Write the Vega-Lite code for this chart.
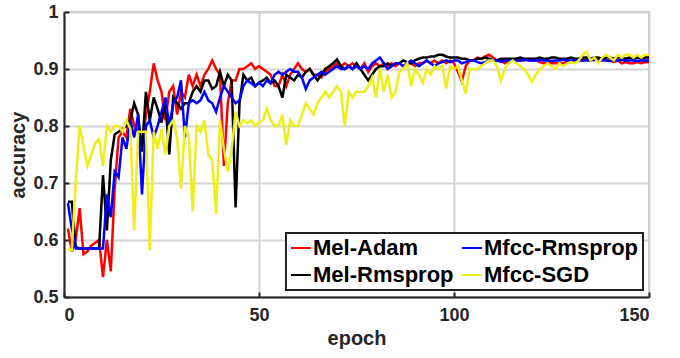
{
"$schema": "https://vega.github.io/schema/vega-lite/v6.json",
"width": 585, "height": 285,
"autosize": {"type": "none"},
"padding": {"left": 64, "top": 12, "right": 31, "bottom": 61},
"background": "white",
"config": {"view": {"stroke": "#c8c8c8", "strokeWidth": 2}, "font": "Liberation Sans"},
"data": {"values": [
{"epoch":1,"Mel-Adam":0.62,"Mel-Rmsprop":0.667,"Mfcc-Rmsprop":0.665,"Mfcc-SGD":0.583},
{"epoch":2,"Mel-Adam":0.58,"Mel-Rmsprop":0.667,"Mfcc-Rmsprop":0.62,"Mfcc-SGD":0.583},
{"epoch":3,"Mel-Adam":0.60,"Mel-Rmsprop":0.588,"Mfcc-Rmsprop":0.585,"Mfcc-SGD":0.70},
{"epoch":4,"Mel-Adam":0.656,"Mel-Rmsprop":0.585,"Mfcc-Rmsprop":0.585,"Mfcc-SGD":0.80},
{"epoch":5,"Mel-Adam":0.575,"Mel-Rmsprop":0.585,"Mfcc-Rmsprop":0.585,"Mfcc-SGD":0.765},
{"epoch":6,"Mel-Adam":0.58,"Mel-Rmsprop":0.585,"Mfcc-Rmsprop":0.585,"Mfcc-SGD":0.73},
{"epoch":7,"Mel-Adam":0.59,"Mel-Rmsprop":0.585,"Mfcc-Rmsprop":0.585,"Mfcc-SGD":0.75},
{"epoch":8,"Mel-Adam":0.595,"Mel-Rmsprop":0.585,"Mfcc-Rmsprop":0.585,"Mfcc-SGD":0.77},
{"epoch":9,"Mel-Adam":0.60,"Mel-Rmsprop":0.585,"Mfcc-Rmsprop":0.585,"Mfcc-SGD":0.777},
{"epoch":10,"Mel-Adam":0.535,"Mel-Rmsprop":0.714,"Mfcc-Rmsprop":0.585,"Mfcc-SGD":0.73},
{"epoch":11,"Mel-Adam":0.60,"Mel-Rmsprop":0.617,"Mfcc-Rmsprop":0.68,"Mfcc-SGD":0.80},
{"epoch":12,"Mel-Adam":0.545,"Mel-Rmsprop":0.74,"Mfcc-Rmsprop":0.64,"Mfcc-SGD":0.79},
{"epoch":13,"Mel-Adam":0.69,"Mel-Rmsprop":0.785,"Mfcc-Rmsprop":0.72,"Mfcc-SGD":0.80},
{"epoch":14,"Mel-Adam":0.78,"Mel-Rmsprop":0.79,"Mfcc-Rmsprop":0.71,"Mfcc-SGD":0.80},
{"epoch":15,"Mel-Adam":0.79,"Mel-Rmsprop":0.795,"Mfcc-Rmsprop":0.78,"Mfcc-SGD":0.79},
{"epoch":16,"Mel-Adam":0.78,"Mel-Rmsprop":0.80,"Mfcc-Rmsprop":0.76,"Mfcc-SGD":0.81},
{"epoch":17,"Mel-Adam":0.83,"Mel-Rmsprop":0.81,"Mfcc-Rmsprop":0.81,"Mfcc-SGD":0.795},
{"epoch":18,"Mel-Adam":0.80,"Mel-Rmsprop":0.84,"Mfcc-Rmsprop":0.78,"Mfcc-SGD":0.617},
{"epoch":19,"Mel-Adam":0.79,"Mel-Rmsprop":0.82,"Mfcc-Rmsprop":0.82,"Mfcc-SGD":0.79},
{"epoch":20,"Mel-Adam":0.76,"Mel-Rmsprop":0.755,"Mfcc-Rmsprop":0.68,"Mfcc-SGD":0.79},
{"epoch":21,"Mel-Adam":0.82,"Mel-Rmsprop":0.86,"Mfcc-Rmsprop":0.80,"Mfcc-SGD":0.79},
{"epoch":22,"Mel-Adam":0.86,"Mel-Rmsprop":0.81,"Mfcc-Rmsprop":0.81,"Mfcc-SGD":0.582},
{"epoch":23,"Mel-Adam":0.91,"Mel-Rmsprop":0.85,"Mfcc-Rmsprop":0.78,"Mfcc-SGD":0.79},
{"epoch":24,"Mel-Adam":0.88,"Mel-Rmsprop":0.83,"Mfcc-Rmsprop":0.80,"Mfcc-SGD":0.76},
{"epoch":25,"Mel-Adam":0.86,"Mel-Rmsprop":0.806,"Mfcc-Rmsprop":0.825,"Mfcc-SGD":0.795},
{"epoch":26,"Mel-Adam":0.81,"Mel-Rmsprop":0.84,"Mfcc-Rmsprop":0.85,"Mfcc-SGD":0.75},
{"epoch":27,"Mel-Adam":0.86,"Mel-Rmsprop":0.75,"Mfcc-Rmsprop":0.80,"Mfcc-SGD":0.80},
{"epoch":28,"Mel-Adam":0.87,"Mel-Rmsprop":0.85,"Mfcc-Rmsprop":0.84,"Mfcc-SGD":0.81},
{"epoch":29,"Mel-Adam":0.82,"Mel-Rmsprop":0.84,"Mfcc-Rmsprop":0.85,"Mfcc-SGD":0.78},
{"epoch":30,"Mel-Adam":0.86,"Mel-Rmsprop":0.83,"Mfcc-Rmsprop":0.88,"Mfcc-SGD":0.69},
{"epoch":31,"Mel-Adam":0.85,"Mel-Rmsprop":0.84,"Mfcc-Rmsprop":0.78,"Mfcc-SGD":0.80},
{"epoch":32,"Mel-Adam":0.89,"Mel-Rmsprop":0.84,"Mfcc-Rmsprop":0.84,"Mfcc-SGD":0.78},
{"epoch":33,"Mel-Adam":0.87,"Mel-Rmsprop":0.86,"Mfcc-Rmsprop":0.845,"Mfcc-SGD":0.65},
{"epoch":34,"Mel-Adam":0.89,"Mel-Rmsprop":0.87,"Mfcc-Rmsprop":0.84,"Mfcc-SGD":0.80},
{"epoch":35,"Mel-Adam":0.87,"Mel-Rmsprop":0.86,"Mfcc-Rmsprop":0.845,"Mfcc-SGD":0.79},
{"epoch":36,"Mel-Adam":0.89,"Mel-Rmsprop":0.88,"Mfcc-Rmsprop":0.86,"Mfcc-SGD":0.81},
{"epoch":37,"Mel-Adam":0.90,"Mel-Rmsprop":0.88,"Mfcc-Rmsprop":0.845,"Mfcc-SGD":0.75},
{"epoch":38,"Mel-Adam":0.915,"Mel-Rmsprop":0.865,"Mfcc-Rmsprop":0.84,"Mfcc-SGD":0.74},
{"epoch":39,"Mel-Adam":0.90,"Mel-Rmsprop":0.87,"Mfcc-Rmsprop":0.825,"Mfcc-SGD":0.646},
{"epoch":40,"Mel-Adam":0.89,"Mel-Rmsprop":0.895,"Mfcc-Rmsprop":0.85,"Mfcc-SGD":0.81},
{"epoch":41,"Mel-Adam":0.73,"Mel-Rmsprop":0.87,"Mfcc-Rmsprop":0.87,"Mfcc-SGD":0.76},
{"epoch":42,"Mel-Adam":0.84,"Mel-Rmsprop":0.89,"Mfcc-Rmsprop":0.86,"Mfcc-SGD":0.72},
{"epoch":43,"Mel-Adam":0.88,"Mel-Rmsprop":0.88,"Mfcc-Rmsprop":0.85,"Mfcc-SGD":0.76},
{"epoch":44,"Mel-Adam":0.88,"Mel-Rmsprop":0.657,"Mfcc-Rmsprop":0.84,"Mfcc-SGD":0.825},
{"epoch":45,"Mel-Adam":0.90,"Mel-Rmsprop":0.84,"Mfcc-Rmsprop":0.845,"Mfcc-SGD":0.80},
{"epoch":46,"Mel-Adam":0.90,"Mel-Rmsprop":0.89,"Mfcc-Rmsprop":0.87,"Mfcc-SGD":0.81},
{"epoch":47,"Mel-Adam":0.905,"Mel-Rmsprop":0.88,"Mfcc-Rmsprop":0.88,"Mfcc-SGD":0.805},
{"epoch":48,"Mel-Adam":0.91,"Mel-Rmsprop":0.885,"Mfcc-Rmsprop":0.875,"Mfcc-SGD":0.81},
{"epoch":49,"Mel-Adam":0.90,"Mel-Rmsprop":0.87,"Mfcc-Rmsprop":0.87,"Mfcc-SGD":0.80},
{"epoch":50,"Mel-Adam":0.905,"Mel-Rmsprop":0.876,"Mfcc-Rmsprop":0.876,"Mfcc-SGD":0.807},
{"epoch":51,"Mel-Adam":0.90,"Mel-Rmsprop":0.88,"Mfcc-Rmsprop":0.87,"Mfcc-SGD":0.81},
{"epoch":52,"Mel-Adam":0.895,"Mel-Rmsprop":0.885,"Mfcc-Rmsprop":0.88,"Mfcc-SGD":0.83},
{"epoch":53,"Mel-Adam":0.89,"Mel-Rmsprop":0.875,"Mfcc-Rmsprop":0.875,"Mfcc-SGD":0.81},
{"epoch":54,"Mel-Adam":0.87,"Mel-Rmsprop":0.88,"Mfcc-Rmsprop":0.89,"Mfcc-SGD":0.80},
{"epoch":55,"Mel-Adam":0.87,"Mel-Rmsprop":0.87,"Mfcc-Rmsprop":0.895,"Mfcc-SGD":0.80},
{"epoch":56,"Mel-Adam":0.89,"Mel-Rmsprop":0.85,"Mfcc-Rmsprop":0.89,"Mfcc-SGD":0.82},
{"epoch":57,"Mel-Adam":0.87,"Mel-Rmsprop":0.89,"Mfcc-Rmsprop":0.895,"Mfcc-SGD":0.767},
{"epoch":58,"Mel-Adam":0.89,"Mel-Rmsprop":0.885,"Mfcc-Rmsprop":0.90,"Mfcc-SGD":0.81},
{"epoch":59,"Mel-Adam":0.90,"Mel-Rmsprop":0.88,"Mfcc-Rmsprop":0.895,"Mfcc-SGD":0.80},
{"epoch":60,"Mel-Adam":0.91,"Mel-Rmsprop":0.89,"Mfcc-Rmsprop":0.895,"Mfcc-SGD":0.80},
{"epoch":61,"Mel-Adam":0.90,"Mel-Rmsprop":0.885,"Mfcc-Rmsprop":0.885,"Mfcc-SGD":0.82},
{"epoch":62,"Mel-Adam":0.895,"Mel-Rmsprop":0.895,"Mfcc-Rmsprop":0.865,"Mfcc-SGD":0.84},
{"epoch":63,"Mel-Adam":0.90,"Mel-Rmsprop":0.90,"Mfcc-Rmsprop":0.88,"Mfcc-SGD":0.83},
{"epoch":64,"Mel-Adam":0.89,"Mel-Rmsprop":0.89,"Mfcc-Rmsprop":0.885,"Mfcc-SGD":0.82},
{"epoch":65,"Mel-Adam":0.89,"Mel-Rmsprop":0.88,"Mfcc-Rmsprop":0.89,"Mfcc-SGD":0.84},
{"epoch":66,"Mel-Adam":0.885,"Mel-Rmsprop":0.89,"Mfcc-Rmsprop":0.895,"Mfcc-SGD":0.85},
{"epoch":67,"Mel-Adam":0.895,"Mel-Rmsprop":0.90,"Mfcc-Rmsprop":0.89,"Mfcc-SGD":0.86},
{"epoch":68,"Mel-Adam":0.90,"Mel-Rmsprop":0.905,"Mfcc-Rmsprop":0.895,"Mfcc-SGD":0.85},
{"epoch":69,"Mel-Adam":0.905,"Mel-Rmsprop":0.91,"Mfcc-Rmsprop":0.90,"Mfcc-SGD":0.86},
{"epoch":70,"Mel-Adam":0.91,"Mel-Rmsprop":0.917,"Mfcc-Rmsprop":0.905,"Mfcc-SGD":0.87},
{"epoch":71,"Mel-Adam":0.905,"Mel-Rmsprop":0.905,"Mfcc-Rmsprop":0.90,"Mfcc-SGD":0.86},
{"epoch":72,"Mel-Adam":0.91,"Mel-Rmsprop":0.90,"Mfcc-Rmsprop":0.90,"Mfcc-SGD":0.80},
{"epoch":73,"Mel-Adam":0.905,"Mel-Rmsprop":0.905,"Mfcc-Rmsprop":0.905,"Mfcc-SGD":0.86},
{"epoch":74,"Mel-Adam":0.91,"Mel-Rmsprop":0.90,"Mfcc-Rmsprop":0.90,"Mfcc-SGD":0.85},
{"epoch":75,"Mel-Adam":0.905,"Mel-Rmsprop":0.91,"Mfcc-Rmsprop":0.905,"Mfcc-SGD":0.86},
{"epoch":76,"Mel-Adam":0.90,"Mel-Rmsprop":0.90,"Mfcc-Rmsprop":0.90,"Mfcc-SGD":0.86},
{"epoch":77,"Mel-Adam":0.91,"Mel-Rmsprop":0.89,"Mfcc-Rmsprop":0.905,"Mfcc-SGD":0.86},
{"epoch":78,"Mel-Adam":0.895,"Mel-Rmsprop":0.88,"Mfcc-Rmsprop":0.90,"Mfcc-SGD":0.87},
{"epoch":79,"Mel-Adam":0.905,"Mel-Rmsprop":0.89,"Mfcc-Rmsprop":0.91,"Mfcc-SGD":0.885},
{"epoch":80,"Mel-Adam":0.91,"Mel-Rmsprop":0.90,"Mfcc-Rmsprop":0.915,"Mfcc-SGD":0.85},
{"epoch":81,"Mel-Adam":0.905,"Mel-Rmsprop":0.905,"Mfcc-Rmsprop":0.92,"Mfcc-SGD":0.90},
{"epoch":82,"Mel-Adam":0.91,"Mel-Rmsprop":0.905,"Mfcc-Rmsprop":0.91,"Mfcc-SGD":0.86},
{"epoch":83,"Mel-Adam":0.905,"Mel-Rmsprop":0.91,"Mfcc-Rmsprop":0.90,"Mfcc-SGD":0.89},
{"epoch":84,"Mel-Adam":0.91,"Mel-Rmsprop":0.905,"Mfcc-Rmsprop":0.905,"Mfcc-SGD":0.85},
{"epoch":85,"Mel-Adam":0.905,"Mel-Rmsprop":0.91,"Mfcc-Rmsprop":0.91,"Mfcc-SGD":0.86},
{"epoch":86,"Mel-Adam":0.91,"Mel-Rmsprop":0.91,"Mfcc-Rmsprop":0.91,"Mfcc-SGD":0.895},
{"epoch":87,"Mel-Adam":0.905,"Mel-Rmsprop":0.915,"Mfcc-Rmsprop":0.905,"Mfcc-SGD":0.90},
{"epoch":88,"Mel-Adam":0.91,"Mel-Rmsprop":0.912,"Mfcc-Rmsprop":0.91,"Mfcc-SGD":0.91},
{"epoch":89,"Mel-Adam":0.91,"Mel-Rmsprop":0.91,"Mfcc-Rmsprop":0.915,"Mfcc-SGD":0.87},
{"epoch":90,"Mel-Adam":0.905,"Mel-Rmsprop":0.915,"Mfcc-Rmsprop":0.91,"Mfcc-SGD":0.90},
{"epoch":91,"Mel-Adam":0.91,"Mel-Rmsprop":0.918,"Mfcc-Rmsprop":0.905,"Mfcc-SGD":0.89},
{"epoch":92,"Mel-Adam":0.91,"Mel-Rmsprop":0.92,"Mfcc-Rmsprop":0.91,"Mfcc-SGD":0.876},
{"epoch":93,"Mel-Adam":0.915,"Mel-Rmsprop":0.92,"Mfcc-Rmsprop":0.915,"Mfcc-SGD":0.90},
{"epoch":94,"Mel-Adam":0.91,"Mel-Rmsprop":0.922,"Mfcc-Rmsprop":0.91,"Mfcc-SGD":0.89},
{"epoch":95,"Mel-Adam":0.915,"Mel-Rmsprop":0.922,"Mfcc-Rmsprop":0.905,"Mfcc-SGD":0.905},
{"epoch":96,"Mel-Adam":0.91,"Mel-Rmsprop":0.925,"Mfcc-Rmsprop":0.91,"Mfcc-SGD":0.90},
{"epoch":97,"Mel-Adam":0.915,"Mel-Rmsprop":0.925,"Mfcc-Rmsprop":0.912,"Mfcc-SGD":0.905},
{"epoch":98,"Mel-Adam":0.91,"Mel-Rmsprop":0.922,"Mfcc-Rmsprop":0.915,"Mfcc-SGD":0.866},
{"epoch":99,"Mel-Adam":0.915,"Mel-Rmsprop":0.92,"Mfcc-Rmsprop":0.912,"Mfcc-SGD":0.905},
{"epoch":100,"Mel-Adam":0.91,"Mel-Rmsprop":0.92,"Mfcc-Rmsprop":0.915,"Mfcc-SGD":0.90},
{"epoch":101,"Mel-Adam":0.895,"Mel-Rmsprop":0.92,"Mfcc-Rmsprop":0.915,"Mfcc-SGD":0.905},
{"epoch":102,"Mel-Adam":0.878,"Mel-Rmsprop":0.918,"Mfcc-Rmsprop":0.91,"Mfcc-SGD":0.88},
{"epoch":103,"Mel-Adam":0.905,"Mel-Rmsprop":0.918,"Mfcc-Rmsprop":0.912,"Mfcc-SGD":0.857},
{"epoch":104,"Mel-Adam":0.915,"Mel-Rmsprop":0.915,"Mfcc-Rmsprop":0.915,"Mfcc-SGD":0.90},
{"epoch":105,"Mel-Adam":0.915,"Mel-Rmsprop":0.915,"Mfcc-Rmsprop":0.915,"Mfcc-SGD":0.90},
{"epoch":106,"Mel-Adam":0.92,"Mel-Rmsprop":0.918,"Mfcc-Rmsprop":0.912,"Mfcc-SGD":0.90},
{"epoch":107,"Mel-Adam":0.918,"Mel-Rmsprop":0.918,"Mfcc-Rmsprop":0.91,"Mfcc-SGD":0.905},
{"epoch":108,"Mel-Adam":0.922,"Mel-Rmsprop":0.92,"Mfcc-Rmsprop":0.912,"Mfcc-SGD":0.91},
{"epoch":109,"Mel-Adam":0.925,"Mel-Rmsprop":0.918,"Mfcc-Rmsprop":0.915,"Mfcc-SGD":0.915},
{"epoch":110,"Mel-Adam":0.92,"Mel-Rmsprop":0.915,"Mfcc-Rmsprop":0.915,"Mfcc-SGD":0.915},
{"epoch":111,"Mel-Adam":0.915,"Mel-Rmsprop":0.915,"Mfcc-Rmsprop":0.915,"Mfcc-SGD":0.905},
{"epoch":112,"Mel-Adam":0.915,"Mel-Rmsprop":0.918,"Mfcc-Rmsprop":0.913,"Mfcc-SGD":0.88},
{"epoch":113,"Mel-Adam":0.91,"Mel-Rmsprop":0.918,"Mfcc-Rmsprop":0.915,"Mfcc-SGD":0.90},
{"epoch":114,"Mel-Adam":0.915,"Mel-Rmsprop":0.918,"Mfcc-Rmsprop":0.915,"Mfcc-SGD":0.91},
{"epoch":115,"Mel-Adam":0.915,"Mel-Rmsprop":0.918,"Mfcc-Rmsprop":0.915,"Mfcc-SGD":0.915},
{"epoch":116,"Mel-Adam":0.918,"Mel-Rmsprop":0.918,"Mfcc-Rmsprop":0.914,"Mfcc-SGD":0.91},
{"epoch":117,"Mel-Adam":0.915,"Mel-Rmsprop":0.92,"Mfcc-Rmsprop":0.915,"Mfcc-SGD":0.905},
{"epoch":118,"Mel-Adam":0.915,"Mel-Rmsprop":0.918,"Mfcc-Rmsprop":0.916,"Mfcc-SGD":0.90},
{"epoch":119,"Mel-Adam":0.918,"Mel-Rmsprop":0.918,"Mfcc-Rmsprop":0.915,"Mfcc-SGD":0.89},
{"epoch":120,"Mel-Adam":0.915,"Mel-Rmsprop":0.918,"Mfcc-Rmsprop":0.915,"Mfcc-SGD":0.877},
{"epoch":121,"Mel-Adam":0.915,"Mel-Rmsprop":0.918,"Mfcc-Rmsprop":0.915,"Mfcc-SGD":0.89},
{"epoch":122,"Mel-Adam":0.912,"Mel-Rmsprop":0.92,"Mfcc-Rmsprop":0.916,"Mfcc-SGD":0.90},
{"epoch":123,"Mel-Adam":0.91,"Mel-Rmsprop":0.918,"Mfcc-Rmsprop":0.915,"Mfcc-SGD":0.905},
{"epoch":124,"Mel-Adam":0.91,"Mel-Rmsprop":0.918,"Mfcc-Rmsprop":0.915,"Mfcc-SGD":0.91},
{"epoch":125,"Mel-Adam":0.91,"Mel-Rmsprop":0.92,"Mfcc-Rmsprop":0.914,"Mfcc-SGD":0.905},
{"epoch":126,"Mel-Adam":0.91,"Mel-Rmsprop":0.92,"Mfcc-Rmsprop":0.915,"Mfcc-SGD":0.90},
{"epoch":127,"Mel-Adam":0.91,"Mel-Rmsprop":0.918,"Mfcc-Rmsprop":0.915,"Mfcc-SGD":0.91},
{"epoch":128,"Mel-Adam":0.91,"Mel-Rmsprop":0.918,"Mfcc-Rmsprop":0.916,"Mfcc-SGD":0.905},
{"epoch":129,"Mel-Adam":0.912,"Mel-Rmsprop":0.918,"Mfcc-Rmsprop":0.915,"Mfcc-SGD":0.91},
{"epoch":130,"Mel-Adam":0.912,"Mel-Rmsprop":0.92,"Mfcc-Rmsprop":0.915,"Mfcc-SGD":0.912},
{"epoch":131,"Mel-Adam":0.915,"Mel-Rmsprop":0.918,"Mfcc-Rmsprop":0.915,"Mfcc-SGD":0.91},
{"epoch":132,"Mel-Adam":0.915,"Mel-Rmsprop":0.918,"Mfcc-Rmsprop":0.916,"Mfcc-SGD":0.915},
{"epoch":133,"Mel-Adam":0.915,"Mel-Rmsprop":0.92,"Mfcc-Rmsprop":0.915,"Mfcc-SGD":0.925},
{"epoch":134,"Mel-Adam":0.918,"Mel-Rmsprop":0.92,"Mfcc-Rmsprop":0.915,"Mfcc-SGD":0.93},
{"epoch":135,"Mel-Adam":0.915,"Mel-Rmsprop":0.918,"Mfcc-Rmsprop":0.915,"Mfcc-SGD":0.915},
{"epoch":136,"Mel-Adam":0.918,"Mel-Rmsprop":0.92,"Mfcc-Rmsprop":0.916,"Mfcc-SGD":0.92},
{"epoch":137,"Mel-Adam":0.915,"Mel-Rmsprop":0.92,"Mfcc-Rmsprop":0.915,"Mfcc-SGD":0.91},
{"epoch":138,"Mel-Adam":0.918,"Mel-Rmsprop":0.918,"Mfcc-Rmsprop":0.915,"Mfcc-SGD":0.92},
{"epoch":139,"Mel-Adam":0.915,"Mel-Rmsprop":0.92,"Mfcc-Rmsprop":0.915,"Mfcc-SGD":0.925},
{"epoch":140,"Mel-Adam":0.915,"Mel-Rmsprop":0.92,"Mfcc-Rmsprop":0.914,"Mfcc-SGD":0.92},
{"epoch":141,"Mel-Adam":0.912,"Mel-Rmsprop":0.918,"Mfcc-Rmsprop":0.915,"Mfcc-SGD":0.915},
{"epoch":142,"Mel-Adam":0.915,"Mel-Rmsprop":0.92,"Mfcc-Rmsprop":0.915,"Mfcc-SGD":0.925},
{"epoch":143,"Mel-Adam":0.91,"Mel-Rmsprop":0.92,"Mfcc-Rmsprop":0.916,"Mfcc-SGD":0.92},
{"epoch":144,"Mel-Adam":0.912,"Mel-Rmsprop":0.918,"Mfcc-Rmsprop":0.915,"Mfcc-SGD":0.925},
{"epoch":145,"Mel-Adam":0.91,"Mel-Rmsprop":0.92,"Mfcc-Rmsprop":0.915,"Mfcc-SGD":0.925},
{"epoch":146,"Mel-Adam":0.91,"Mel-Rmsprop":0.918,"Mfcc-Rmsprop":0.915,"Mfcc-SGD":0.92},
{"epoch":147,"Mel-Adam":0.912,"Mel-Rmsprop":0.92,"Mfcc-Rmsprop":0.914,"Mfcc-SGD":0.925},
{"epoch":148,"Mel-Adam":0.91,"Mel-Rmsprop":0.918,"Mfcc-Rmsprop":0.915,"Mfcc-SGD":0.92},
{"epoch":149,"Mel-Adam":0.912,"Mel-Rmsprop":0.92,"Mfcc-Rmsprop":0.915,"Mfcc-SGD":0.925},
{"epoch":150,"Mel-Adam":0.912,"Mel-Rmsprop":0.92,"Mfcc-Rmsprop":0.915,"Mfcc-SGD":0.925}
]},
"transform": [{"fold": ["Mel-Adam", "Mel-Rmsprop", "Mfcc-Rmsprop", "Mfcc-SGD"], "as": ["series", "acc"]}],
"mark": {"type": "line", "strokeWidth": 2.5, "strokeJoin": "miter"},
"encoding": {
  "x": {"field": "epoch", "type": "quantitative",
    "scale": {"domain": [0, 150], "nice": false},
    "axis": {"values": [0, 50, 100, 150], "title": "epoch", "grid": true, "gridColor": "#d4d4d4", "gridWidth": 2,
      "domainColor": "#262626", "domainWidth": 2, "tickColor": "#262626", "tickWidth": 2, "tickSize": -5,
      "labelPadding": 14, "labelFont": "Liberation Sans", "labelFontSize": 18, "labelFontWeight": "bold", "labelColor": "#262626",
      "titleFont": "Liberation Sans", "titleFontSize": 20, "titleFontWeight": "bold", "titleColor": "#262626", "titlePadding": 4}},
  "y": {"field": "acc", "type": "quantitative",
    "scale": {"domain": [0.5, 1], "nice": false, "zero": false},
    "axis": {"values": [0.5, 0.6, 0.7, 0.8, 0.9, 1], "format": "~g", "title": "accuracy", "grid": true, "gridColor": "#d4d4d4", "gridWidth": 2,
      "domainColor": "#262626", "domainWidth": 2, "tickColor": "#262626", "tickWidth": 2, "tickSize": -5,
      "labelPadding": 11, "labelFont": "Liberation Sans", "labelFontSize": 18, "labelFontWeight": "bold", "labelColor": "#262626",
      "titleFont": "Liberation Sans", "titleFontSize": 20, "titleFontWeight": "bold", "titleColor": "#262626", "titlePadding": 4}},
  "color": {"field": "series", "type": "nominal",
    "scale": {"domain": ["Mel-Adam", "Mel-Rmsprop", "Mfcc-Rmsprop", "Mfcc-SGD"], "range": ["#ff0000", "#000000", "#0000ff", "#eeee1a"]},
    "legend": {"orient": "none", "legendX": 222, "legendY": 221, "columns": 2, "title": null,
      "symbolType": "stroke", "symbolStrokeWidth": 2, "symbolSize": 400, "labelOffset": 1,
      "labelFont": "Liberation Sans", "labelFontSize": 22, "labelFontWeight": "bold", "labelColor": "#000000", "labelLimit": 300,
      "strokeColor": "#222222", "fillColor": "white", "padding": 4, "rowPadding": 5, "columnPadding": 4,
      "encode": {"legend": {"update": {"strokeWidth": {"value": 2}}}}}}
}
}
